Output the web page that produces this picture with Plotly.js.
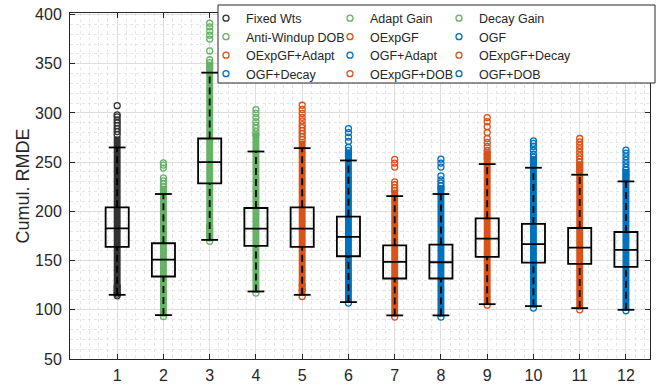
<!DOCTYPE html>
<html><head><meta charset="utf-8">
<script src="https://cdn.plot.ly/plotly-3.0.1.min.js"></script>
<style>html,body{margin:0;padding:0;background:#fff}#chart{width:662px;height:385px}</style>
</head><body><div id="chart"></div>
<script>
// ---- data ----
const groups = [1, 2, 3, 4, 5, 6, 7, 8, 9, 10, 11, 12];
const names = ['Fixed Wts', 'Adapt Gain', 'Decay Gain', 'Anti-Windup DOB', 'OExpGF', 'OGF',
  'OExpGF+Adapt', 'OGF+Adapt', 'OExpGF+Decay', 'OGF+Decay', 'OExpGF+DOB', 'OGF+DOB'];
const q1 =        [163.9, 133.8, 228.4, 164.9, 163.9, 154.4, 131.8, 131.8, 153.7, 148.0, 146.6, 143.6];
const medians =   [182.8, 151.0, 250.0, 182.4, 182.4, 174.0, 148.6, 148.3, 172.3, 166.6, 163.2, 160.8];
const q3 =        [204.1, 167.6, 274.0, 203.4, 204.1, 194.6, 165.5, 166.2, 192.9, 187.2, 183.1, 179.0];
const whiskerLo = [115.2,  94.6, 171.0, 118.6, 115.2, 107.8,  94.3,  94.3, 105.7, 103.7, 101.7, 100.0];
const whiskerHi = [264.9, 217.6, 340.9, 260.8, 264.2, 251.7, 215.5, 217.6, 248.0, 244.3, 237.2, 230.4];
// dense band of data points (min .. where points become sparse)
const bandLo =    [114, 93, 170, 117, 114, 107, 93, 93, 105, 102, 100, 99];
const bandHi =    [276, 226, 352, 280, 272, 262, 222, 226, 262, 256, 250, 243];
// individually visible points
const sparsePoints = [
  [307.4, 298, 296, 293, 290, 287, 284, 281, 278, 124, 121, 118, 116, 114.2],
  [249.3, 247, 244, 234, 231, 228, 225, 222, 93.2],
  [391.2, 387.5, 383, 379, 375, 363, 354, 351, 348, 345, 185, 182, 179, 176, 173, 169.6],
  [303.4, 299.5, 295.5, 291, 287.5, 284.5, 281, 278, 117],
  [307.8, 303.5, 299.5, 295.5, 292, 288, 285, 282, 279, 276, 273, 125, 120, 113.5],
  [284.1, 280, 275.5, 271, 265, 262, 259, 256, 106.8],
  [252.7, 249, 245, 230, 227, 224, 221, 92.6],
  [253, 249, 245, 236, 232, 229, 226, 223, 92.6],
  [295.3, 291, 286, 280, 274, 270, 266, 262, 258, 254, 104.7],
  [271.6, 269, 266, 262, 258, 255, 252, 249, 101.7],
  [274, 270.5, 267, 263.5, 260, 256.5, 253, 250, 247, 244, 241, 100],
  [262.2, 259, 255.5, 252, 248.5, 245, 242, 239, 236, 233, 99]
];
const xTicks = [1, 2, 3, 4, 5, 6, 7, 8, 9, 10, 11, 12];
const yTicks = [50, 100, 150, 200, 250, 300, 350, 400];

// ---- styling ----
const GREEN = '#66b266', ORANGE = '#D95319', BLUE = '#0072BD', DARK = '#333333';
const colors = [DARK, GREEN, GREEN, GREEN, ORANGE, BLUE, ORANGE, BLUE, ORANGE, BLUE, ORANGE, BLUE];
const AX = '#262626';
const FONT = 'Liberation Sans, Arial, Helvetica, sans-serif';
const legendIds = groups.map((g, i) => i === 0 ? 'legend' : 'legend' + (i + 1));

const traces = [];
// dense bands
traces.push({
  type: 'bar', x: groups,
  base: bandLo, y: bandHi.map((h, i) => h - bandLo[i]),
  width: 0.15, marker: {color: colors, line: {width: 0}},
  showlegend: false, hoverinfo: 'skip'
});
// boxes
traces.push({
  type: 'box', x: groups, q1: q1, median: medians, q3: q3,
  lowerfence: q1, upperfence: q3, width: 0.5, whiskerwidth: 0,
  fillcolor: 'rgba(0,0,0,0)', line: {color: '#000', width: 1.8},
  boxpoints: false, showlegend: false, hoverinfo: 'skip'
});
// sparse points (legend entries)
groups.forEach((g, i) => {
  traces.push({
    type: 'scatter', mode: 'markers', name: names[i],
    x: sparsePoints[i].map(() => g), y: sparsePoints[i],
    marker: {symbol: 'circle-open', size: 6, color: colors[i], line: {width: 1.3, color: colors[i]}},
    legend: legendIds[i], hoverinfo: 'skip'
  });
});
// dashed whiskers
const wx = [], wy = [];
groups.forEach((g, i) => {
  wx.push(g, g, null, g, g, null);
  wy.push(whiskerLo[i], q1[i], null, q3[i], whiskerHi[i], null);
});
traces.push({type: 'scatter', mode: 'lines', x: wx, y: wy,
  line: {color: '#000', width: 1.8, dash: '7px,4px'}, showlegend: false, hoverinfo: 'skip'});
// whisker caps
traces.push({type: 'scatter', mode: 'markers',
  x: groups.concat(groups), y: whiskerLo.concat(whiskerHi),
  marker: {symbol: 'line-ew', size: 12, line: {width: 1.8, color: '#000'}},
  showlegend: false, hoverinfo: 'skip'});

const plotL = 70, plotR = 650, plotT = 13, plotB = 359;
const px2x = p => (p - plotL) / (plotR - plotL);
const px2y = p => (plotB - p) / (plotB - plotT);
const legendColLeft = [206, 330, 439];
const legendRowMid = [18.5, 37, 55.5, 74];

const layout = {
  width: 662, height: 385,
  margin: {l: plotL, r: 662 - plotR, t: plotT, b: 385 - plotB, pad: 0, autoexpand: false},
  paper_bgcolor: '#fff', plot_bgcolor: '#fff',
  font: {family: FONT, color: AX},
  showlegend: true,
  xaxis: {
    range: [-0.02, 12.52], tickmode: 'array', tickvals: xTicks, ticktext: xTicks.map(String),
    ticks: 'inside', ticklen: 5, tickcolor: AX, tickwidth: 1,
    showline: true, linecolor: AX, linewidth: 1, mirror: 'ticks',
    showgrid: true, gridcolor: '#dedede', gridwidth: 1, zeroline: false,
    tickfont: {family: FONT, size: 16, color: AX}, ticklabelstandoff: 2,
    automargin: false,
    minor: {tickmode: 'linear', tick0: 0, dtick: 0.2, showgrid: true, gridcolor: '#e6e6e6', griddash: 'dot', gridwidth: 1, ticks: ''}
  },
  yaxis: {
    range: [50, 401.5], tickmode: 'array', tickvals: yTicks, ticktext: yTicks.map(String),
    ticks: 'inside', ticklen: 5, tickcolor: AX, tickwidth: 1,
    showline: true, linecolor: AX, linewidth: 1, mirror: 'ticks',
    showgrid: true, gridcolor: '#dedede', gridwidth: 1, zeroline: false,
    tickfont: {family: FONT, size: 16, color: AX}, ticklabelstandoff: 4,
    title: {text: 'Cumul. RMDE', font: {family: FONT, size: 18, color: AX}, standoff: 0},
    automargin: true,
    minor: {tickmode: 'linear', tick0: 0, dtick: 10, showgrid: true, gridcolor: '#e6e6e6', griddash: 'dot', gridwidth: 1, ticks: ''}
  },
  shapes: [{
    type: 'rect', xref: 'paper', yref: 'paper', layer: 'above',
    x0: px2x(218), x1: px2x(655), y0: px2y(83), y1: px2y(5),
    fillcolor: '#fff', line: {color: AX, width: 1}
  }]
};
legendIds.forEach((id, i) => {
  layout[id] = {
    x: px2x(legendColLeft[i % 3]), y: px2y(legendRowMid[Math.floor(i / 3)]),
    xanchor: 'left', yanchor: 'middle',
    bgcolor: 'rgba(0,0,0,0)', borderwidth: 0,
    font: {family: FONT, size: 12.5, color: AX}, itemclick: false
  };
});

Plotly.newPlot('chart', traces, layout, {displayModeBar: false, staticPlot: true});
</script></body></html>
